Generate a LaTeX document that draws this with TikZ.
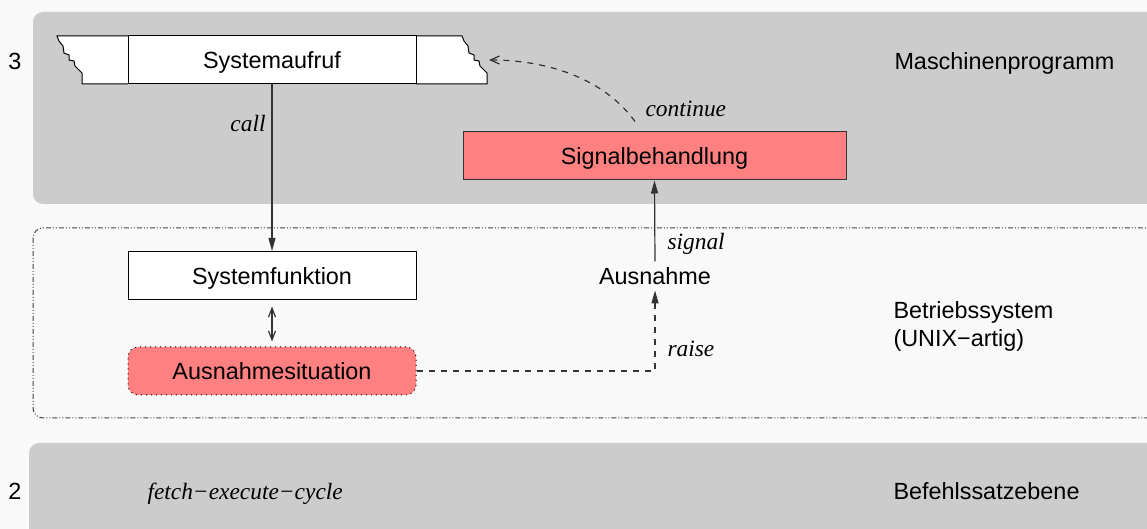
\documentclass[tikz,border=0pt]{standalone}
\usepackage{fontspec}
\setmainfont{Liberation Sans}
\newfontfamily\serifit{Liberation Serif}
\usetikzlibrary{arrows.meta}
\definecolor{bg}{HTML}{F9F9F9}
\definecolor{panel}{HTML}{CCCCCC}
\definecolor{pinkfill}{HTML}{FF8080}
\definecolor{edge}{HTML}{333333}
\definecolor{framec}{HTML}{444444}
\begin{document}
\begin{tikzpicture}[x=0.5pt,y=-0.5pt,
  font=\fontsize{11.7}{14}\selectfont, line width=0.5pt,
  box/.style={draw=black, fill=white, minimum width=144pt, minimum height=24pt,
    inner sep=0pt, text height=9pt, text depth=0pt},
  lbl/.style={font=\fontsize{11.7}{14}\selectfont\serifit\itshape, inner sep=0pt},
  plain/.style={inner sep=0pt},
  conn/.style={draw=edge, line width=0.6pt},
  tipf/.style={-{Triangle[length=6.5pt,width=3.5pt]}},
  tipo/.style={{Straight Barb[length=4.5pt,width=3.5pt]}-{Straight Barb[length=4.5pt,width=3.5pt]}},
  tipc/.style={-{Straight Barb[length=4.5pt,width=4pt]}},
  framestyle/.style={draw=framec, line width=0.5pt,
    dash pattern=on 2.5pt off 1pt on 0.5pt off 1pt on 0.5pt off 1pt}
]
\useasboundingbox (0,0) rectangle (1147,529);
\fill[bg] (0,0) rectangle (1147,529);
\clip (0,0) rectangle (1147,529);

% panels
\fill[panel, rounded corners=5pt] (33,12) rectangle (1170,204);
\fill[panel, rounded corners=5pt] (29,443) rectangle (1170,560);
\draw[framestyle, rounded corners=5pt] (33,228) rectangle (1170,418);

% Systemaufruf strip
\filldraw[fill=white, draw=black] (128,84) -- (82,84) -- (82,73) -- (75,66) -- (74,61) -- (69,60) -- (69,55) -- (64,53) -- (63,46) -- (59,41) -- (57,36) -- (128,36);
\filldraw[fill=white, draw=black] (416,36) -- (462,36) -- (464,41) -- (468,46) -- (469,53) -- (474,55) -- (474,60) -- (479,61) -- (480,66) -- (487,73) -- (487,84) -- (416,84);
\node[box] (sysauf) at (272,60) {Systemaufruf};

% nodes
\node[box] (sysfkt) at (272,275.5) {Systemfunktion};
\node[box, fill=pinkfill, dotted, rounded corners=5pt] (ausit) at (272,371) {Ausnahmesituation};
\node[box, fill=pinkfill, draw=edge, minimum width=191.5pt] (sigbeh) at (654.5,156) {Signalbehandlung};
\node[plain, minimum height=14pt, text height=9pt, text depth=0pt] (ausn) at (655,276) {Ausnahme};
\coordinate (cend) at (489,60);

% connectors
\draw[conn, tipf] (sysauf.south) -- (sysfkt.north);
\draw[conn, tipo, shorten <=3.25pt, shorten >=2.5pt] (sysfkt.south) -- (ausit.north);
\draw[conn, dashed, tipf] (ausit.east) -| (ausn.south);
\draw[conn, tipf] (ausn.north) -- (sigbeh.south);
\draw[conn, dashed, tipc] ([xshift=-9.75pt,yshift=5pt]sigbeh.north) .. controls (605,80) and (550,60) .. (cend);

% labels
\node[lbl, anchor=base east] (lcall) at (266,132) {call};
\node[lbl, anchor=base west] (lcont) at (645,117) {continue};
\node[lbl, anchor=base west] (lsig) at (667,250) {signal};
\node[lbl, anchor=base west] (lraise) at (667,357) {raise};
\node[lbl, anchor=base west] (lfetch) at (147,500) {fetch−execute−cycle};

% level texts
\node[plain, anchor=base] (n3) at (15,70) {3};
\node[plain, anchor=base] (n2) at (15,500) {2};
\node[plain, anchor=base west] (tmasch) at (894,70) {Maschinenprogramm};
\node[plain, anchor=base west] (tbs1) at (893,319) {Betriebssystem};
\node[plain, anchor=base west] (tbs2) at (893,347) {(UNIX−artig)};
\node[plain, anchor=base west] (tbef) at (893,500) {Befehlssatzebene};
\end{tikzpicture}
\end{document}
